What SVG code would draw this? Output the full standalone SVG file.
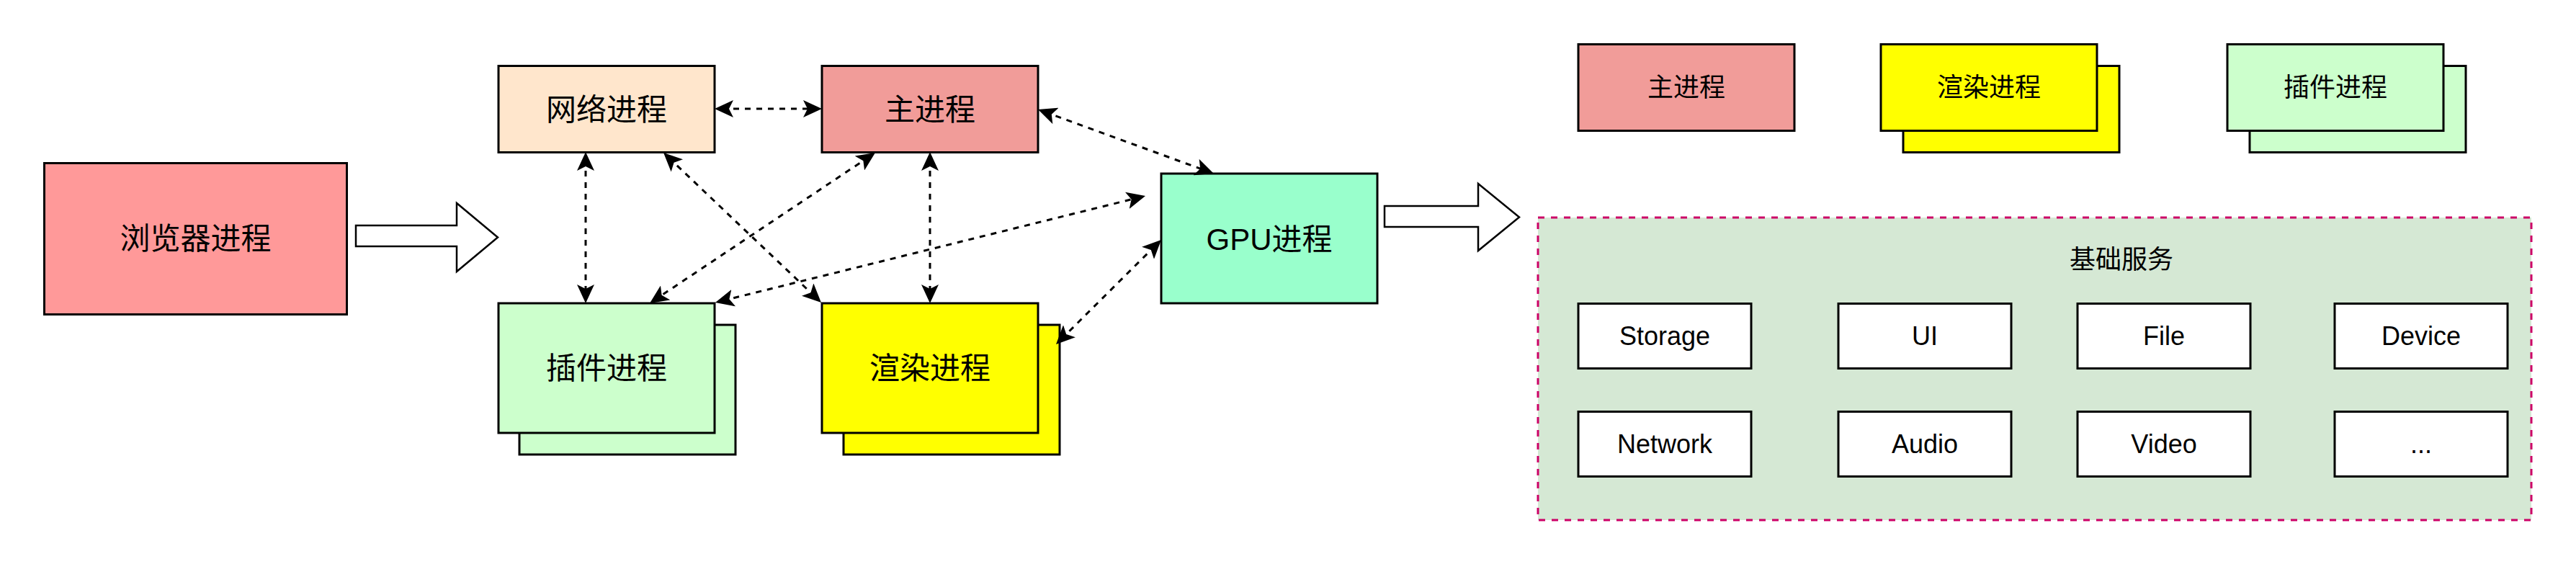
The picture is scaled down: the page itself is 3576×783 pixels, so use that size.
<svg xmlns="http://www.w3.org/2000/svg" width="3576" height="783" viewBox="0 0 3576 783">
<defs>
<style>
.box{stroke:#000;stroke-width:3}
.t{font-family:"Liberation Sans","Noto Sans CJK SC",sans-serif;fill:#000;text-anchor:middle}
.big{font-size:42px}
.sm{font-size:36px}
.conn{fill:none;stroke:#000;stroke-width:3;stroke-dasharray:8 8;marker-start:url(#arr);marker-end:url(#arr)}
.blk{fill:#fff;stroke:#000;stroke-width:2.5;stroke-linejoin:miter}
</style>
<marker id="arr" viewBox="0 0 26 24" refX="16" refY="12" markerWidth="26" markerHeight="24" markerUnits="userSpaceOnUse" orient="auto-start-reverse">
<path d="M0,0 L26,12 L0,24 L6,12 Z" fill="#000"/>
</marker>
</defs>
<rect width="3576" height="783" fill="#fff"/>

<g id="browser">
<rect class="box" x="61.5" y="226.5" width="420" height="210" fill="#ff9999"/>
<text class="t big" x="271.5" y="346">浏览器进程</text>
</g>

<g id="arrow1">
<path class="blk" d="M494,313 H634 V282 L691,329.5 L634,377 V342 H494 Z"/>
</g>

<g id="network">
<rect class="box" x="692" y="91.5" width="300" height="120" fill="#ffe6cc"/>
<text class="t big" x="842" y="167">网络进程</text>
</g>

<g id="main">
<rect class="box" x="1141" y="91.5" width="300" height="120" fill="#f19c99"/>
<text class="t big" x="1291" y="167">主进程</text>
</g>

<g id="plugin">
<rect class="box" x="721" y="451" width="300" height="180" fill="#ccffcc"/>
<rect class="box" x="692" y="421" width="300" height="180" fill="#ccffcc"/>
<text class="t big" x="842" y="526">插件进程</text>
</g>

<g id="render">
<rect class="box" x="1171" y="451" width="300" height="180" fill="#ffff00"/>
<rect class="box" x="1141" y="421" width="300" height="180" fill="#ffff00"/>
<text class="t big" x="1291" y="526">渲染进程</text>
</g>

<g id="gpu">
<rect class="box" x="1612" y="241" width="300" height="180" fill="#99ffcc"/>
<text class="t big" x="1762" y="347">GPU进程</text>
</g>

<g id="arrow2">
<path class="blk" d="M1922,286 H2052 V255 L2109,301.5 L2052,348 V315 H1922 Z"/>
</g>

<g id="connectors">
<line class="conn" x1="1002" y1="151" x2="1131" y2="151"/>
<line class="conn" x1="813" y1="221" x2="813" y2="411"/>
<line class="conn" x1="1291" y1="221" x2="1291" y2="411"/>
<line class="conn" x1="928.3" y1="218.9" x2="1132.7" y2="413.1"/>
<line class="conn" x1="1206.7" y1="217.6" x2="910.3" y2="415.4"/>
<line class="conn" x1="1002.7" y1="417.6" x2="1580.3" y2="274.4"/>
<line class="conn" x1="1450.4" y1="155.4" x2="1675.6" y2="237.6"/>
<line class="conn" x1="1473.1" y1="471" x2="1604.9" y2="340"/>
</g>

<g id="legend-main">
<rect class="box" x="2191" y="61.5" width="300" height="120" fill="#f19c99"/>
<text class="t sm" x="2341" y="134">主进程</text>
</g>

<g id="legend-render">
<rect class="box" x="2642" y="91.5" width="300" height="120" fill="#ffff00"/>
<rect class="box" x="2611" y="61.5" width="300" height="120" fill="#ffff00"/>
<text class="t sm" x="2761" y="134">渲染进程</text>
</g>

<g id="legend-plugin">
<rect class="box" x="3123" y="91.5" width="300" height="120" fill="#ccffcc"/>
<rect class="box" x="3092" y="61.5" width="300" height="120" fill="#ccffcc"/>
<text class="t sm" x="3242" y="134">插件进程</text>
</g>

<g id="services">
<rect x="2135" y="302" width="1379" height="420" fill="#d5e8d4" stroke="#cc0066" stroke-width="3" stroke-dasharray="9 9"/>
<text class="t sm" x="2945" y="373">基础服务</text>
</g>

<g id="svc-storage">
<rect class="box" x="2191" y="421.5" width="240" height="90" fill="#fff"/>
<text class="t sm" x="2311" y="479">Storage</text>
</g>
<g id="svc-ui">
<rect class="box" x="2552" y="421.5" width="240" height="90" fill="#fff"/>
<text class="t sm" x="2672" y="479">UI</text>
</g>
<g id="svc-file">
<rect class="box" x="2884" y="421.5" width="240" height="90" fill="#fff"/>
<text class="t sm" x="3004" y="479">File</text>
</g>
<g id="svc-device">
<rect class="box" x="3241" y="421.5" width="240" height="90" fill="#fff"/>
<text class="t sm" x="3361" y="479">Device</text>
</g>
<g id="svc-network">
<rect class="box" x="2191" y="571.5" width="240" height="90" fill="#fff"/>
<text class="t sm" x="2311" y="629">Network</text>
</g>
<g id="svc-audio">
<rect class="box" x="2552" y="571.5" width="240" height="90" fill="#fff"/>
<text class="t sm" x="2672" y="629">Audio</text>
</g>
<g id="svc-video">
<rect class="box" x="2884" y="571.5" width="240" height="90" fill="#fff"/>
<text class="t sm" x="3004" y="629">Video</text>
</g>
<g id="svc-more">
<rect class="box" x="3241" y="571.5" width="240" height="90" fill="#fff"/>
<text class="t sm" x="3361" y="629">...</text>
</g>
</svg>
